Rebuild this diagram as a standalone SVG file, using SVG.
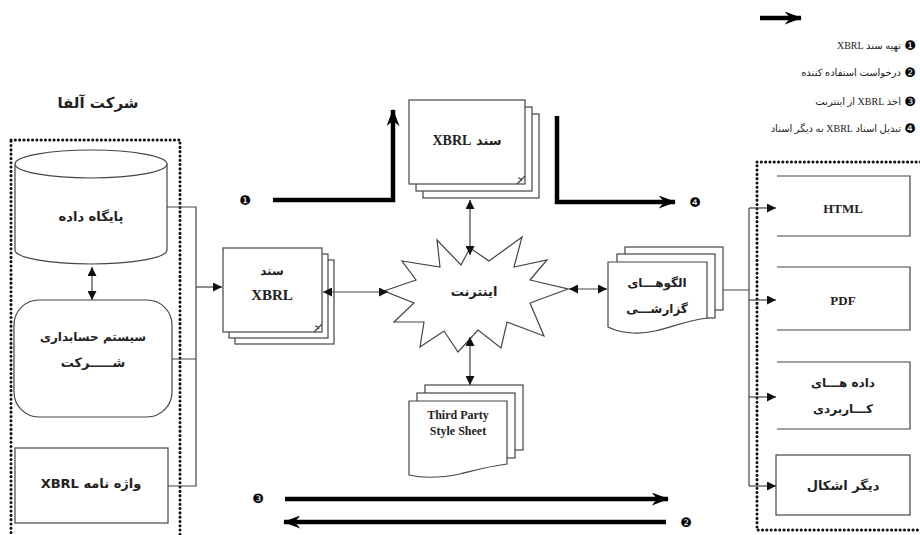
<svg xmlns="http://www.w3.org/2000/svg" width="920" height="535" viewBox="0 0 920 535">
<style>
.bg{fill:#fff}
.ln{fill:none;stroke:#444;stroke-width:1.2}
.pg{fill:#fff;stroke:#444;stroke-width:1.2}
.dot{fill:none;stroke:#111;stroke-width:3;stroke-dasharray:0.1 4.2;stroke-linecap:round}
.thick{fill:none;stroke:#000;stroke-width:4.5}
.fa{font-family:"DejaVu Sans","Liberation Serif",sans-serif;font-weight:bold;fill:#222;text-anchor:middle;direction:rtl;unicode-bidi:embed}
.en{font-family:"Liberation Serif",serif;font-weight:bold;fill:#222;text-anchor:middle}
.lg{font-family:"Liberation Serif","DejaVu Sans",serif;font-size:10px;fill:#222;text-anchor:start;direction:rtl;unicode-bidi:embed}
.bul{font-family:"DejaVu Sans",sans-serif;font-size:13px;fill:#000;text-anchor:middle}
</style>
<defs>
<marker id="ah" viewBox="0 0 10 10" refX="10" refY="5" markerWidth="9" markerHeight="9" markerUnits="userSpaceOnUse" orient="auto-start-reverse"><path d="M0,0 L10,5 L0,10 Z" fill="#111"/></marker>
<marker id="big" viewBox="0 0 16 12" refX="15" refY="6" markerWidth="18" markerHeight="13" markerUnits="userSpaceOnUse" orient="auto"><path d="M0,0 L16,6 L0,12 L5,6 Z" fill="#000"/></marker>
</defs>
<rect class="bg" x="0" y="0" width="920" height="535"/>

<!-- legend -->
<g id="legend">
<line class="thick" x1="760" y1="18" x2="801" y2="18" marker-end="url(#big)"/>
<text class="bul" x="910" y="50">❶</text><text class="lg" x="901" y="49">تهیه سند XBRL</text>
<text class="bul" x="910" y="77">❷</text><text class="lg" x="901" y="76">درخواست استفاده کننده</text>
<text class="bul" x="910" y="106">❸</text><text class="lg" x="901" y="105">اخذ XBRL از اینترنت</text>
<text class="bul" x="910" y="133">❹</text><text class="lg" x="901" y="132">تبدیل اسناد XBRL به دیگر اسناد</text>
</g>

<!-- left company group -->
<g id="company">
<text class="fa" x="98" y="108" font-size="15">شرکت آلفا</text>
<rect class="dot" x="11" y="140" width="169" height="410"/>
</g>
<g id="database">
<path class="pg" d="M15,164 V250 A76,14 0 0 0 167,250 V164"/>
<ellipse class="pg" cx="91" cy="164" rx="76" ry="14"/>
<text class="fa" x="91" y="221" font-size="13">پایگاه داده</text>
</g>
<g id="accounting">
<rect class="pg" x="14" y="300" width="158" height="117" rx="25"/>
<text class="fa" x="93" y="341" font-size="12">سیستم حسابداری</text>
<text class="fa" x="93" y="367" font-size="13">شـــــرکت</text>
</g>
<g id="taxonomy">
<rect class="pg" x="15" y="448" width="153" height="75"/>
<text class="fa" x="91" y="488" font-size="13">واژه نامه XBRL</text>
</g>

<!-- XBRL doc left -->
<g id="xbrl-doc-left">
<rect class="pg" x="235" y="260" width="99" height="84"/>
<rect class="pg" x="229" y="254" width="99" height="84"/>
<rect class="pg" x="223" y="248" width="99" height="84"/>
<path class="ln" d="M322,324 l-8,8 M315,326 q3,0 4,3" />
<text class="fa" x="272" y="275" font-size="12">سند</text>
<text class="en" x="272" y="300" font-size="15">XBRL</text>
</g>

<!-- XBRL doc top -->
<g id="xbrl-doc-top">
<rect class="pg" x="423" y="114" width="116" height="84"/>
<rect class="pg" x="416" y="107" width="116" height="84"/>
<rect class="pg" x="409" y="100" width="116" height="84"/>
<path class="ln" d="M525,176 l-8,8 M518,178 q3,0 4,3"/>
<text class="fa" x="467" y="145" font-size="13">سند <tspan font-family="Liberation Serif" font-size="14">XBRL</tspan></text>
</g>

<!-- internet star -->
<g id="internet">
<polygon class="pg" points="568,289 530,303 544,336 507,322 501,348 478,330 458,352 444,331 420,347 424,322 394,322 414,303 384,291 416,280 402,261 440,267 437,240 461,265 470,248 489,261 522,237 514,267 547,260 530,280"/>
<text class="fa" x="474" y="296" font-size="13">اینترنت</text>
</g>

<!-- reporting templates -->
<g id="reporting">
<rect class="pg" x="625" y="247" width="98" height="63"/>
<rect class="pg" x="617" y="254" width="98" height="64"/>
<path class="pg" d="M608,262 H707 V318 C690,320 675,326 655,331 C638,335 620,333 608,327 Z"/>
<text class="fa" x="657" y="287" font-size="12">الگوهـــای</text>
<text class="fa" x="657" y="313" font-size="12">گزارشـــی</text>
</g>

<!-- third party stylesheet -->
<g id="stylesheet">
<rect class="pg" x="425" y="385" width="98" height="65"/>
<rect class="pg" x="417" y="393" width="98" height="65"/>
<path class="pg" d="M409,401 H507 V464 C490,466 476,470 460,474 C440,478 422,478 409,475 Z"/>
<text class="en" x="458" y="419" font-size="12">Third Party</text>
<text class="en" x="458" y="435" font-size="12">Style Sheet</text>
</g>

<!-- output formats -->
<g id="outputs">
<rect class="dot" x="757" y="162" width="180" height="368"/>
</g>
<g id="html">
<path class="ln" d="M777,176 H910 V236 H777"/>
<text class="en" x="843" y="213" font-size="13">HTML</text>
</g>
<g id="pdf">
<path class="ln" d="M777,267 H910 V330 H777"/>
<text class="en" x="843" y="305" font-size="13">PDF</text>
</g>
<g id="appdata">
<path class="ln" d="M777,362 H910 V429 H777"/>
<text class="fa" x="843" y="387" font-size="12">داده هـــای</text>
<text class="fa" x="843" y="413" font-size="12">کـــاربردی</text>
</g>
<g id="other">
<rect class="pg" x="776" y="455" width="134" height="60"/>
<text class="fa" x="843" y="490" font-size="13">دیگر اشکال</text>
</g>

<!-- connectors -->
<g id="connectors">
<path class="ln" d="M167,207 H196 V486 H168 M172,359 H196"/>
<line class="ln" x1="196" y1="287" x2="222" y2="287" marker-end="url(#ah)"/>
<line class="ln" x1="92" y1="267" x2="92" y2="300" marker-start="url(#ah)" marker-end="url(#ah)"/>
<line class="ln" x1="323" y1="292" x2="388" y2="292" marker-start="url(#ah)" marker-end="url(#ah)"/>
<line class="ln" x1="470" y1="200" x2="470" y2="255" marker-start="url(#ah)" marker-end="url(#ah)"/>
<line class="ln" x1="470" y1="337" x2="470" y2="385" marker-start="url(#ah)" marker-end="url(#ah)"/>
<line class="ln" x1="569" y1="289" x2="607" y2="289" marker-start="url(#ah)" marker-end="url(#ah)"/>
<path class="ln" d="M723,290 H749 M749,208 V486"/>
<line class="ln" x1="749" y1="208" x2="776" y2="208" marker-end="url(#ah)"/>
<line class="ln" x1="749" y1="300" x2="776" y2="300" marker-end="url(#ah)"/>
<line class="ln" x1="749" y1="397" x2="776" y2="397" marker-end="url(#ah)"/>
<line class="ln" x1="749" y1="486" x2="776" y2="486" marker-end="url(#ah)"/>
<!-- numbered flows -->
<path class="thick" d="M273,200 H393 V110" marker-end="url(#big)"/>
<path class="thick" d="M557,116 V202 H675" marker-end="url(#big)"/>
<line class="thick" x1="285" y1="499" x2="668" y2="499" marker-end="url(#big)"/>
<line class="thick" x1="666" y1="522" x2="284" y2="522" marker-end="url(#big)"/>
<text class="bul" x="245" y="205">❶</text>
<text class="bul" x="695" y="207">❹</text>
<text class="bul" x="258" y="503">❸</text>
<text class="bul" x="686" y="527">❷</text>
</g>
</svg>
